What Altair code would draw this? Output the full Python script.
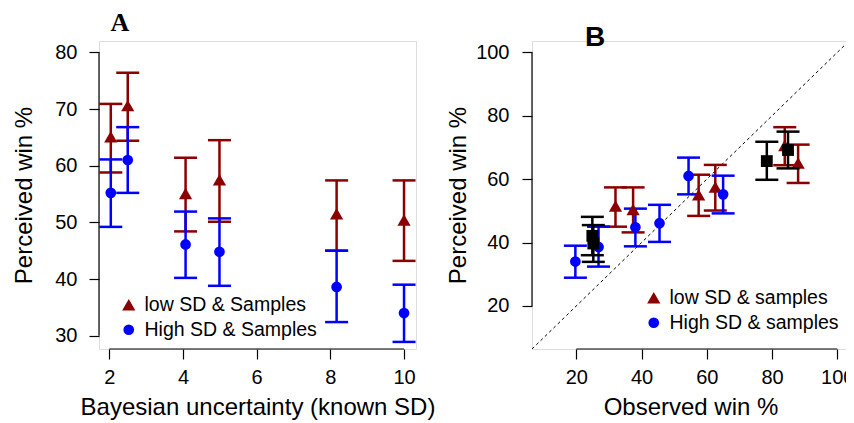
import altair as alt
import pandas as pd

# ---------------- data ----------------
# Panel A: x = Bayesian uncertainty (known SD)
sd_x = [2.04, 2.5, 4.07, 4.99, 8.17, 10.0]
low_mean = [65.1, 70.6, 55.1, 57.5, 51.5, 50.4]
low_lo = [58.8, 64.4, 48.4, 50.1, 45.0, 43.2]
low_hi = [70.9, 76.4, 61.4, 64.5, 57.4, 57.4]
high_mean = [55.2, 61.0, 46.1, 44.8, 38.6, 34.0]
high_lo = [49.2, 55.2, 40.2, 38.8, 32.4, 28.9]
high_hi = [61.1, 66.8, 51.9, 50.7, 45.0, 39.0]

# Panel B: x = observed win %
obs_low = [88.0, 83.9, 57.5, 62.6, 32.0, 37.4]
obs_high = [65.0, 54.4, 45.5, 38.1, 26.8, 19.7]
black_x = [24.9, 25.2, 78.4, 84.9]
black_y = [42.1, 39.7, 65.7, 69.2]
black_lo = [36.0, 33.9, 59.8, 63.4]
black_hi = [48.1, 45.5, 71.8, 75.0]

a_xticks = [2, 4, 6, 8, 10]
a_yticks = [30, 40, 50, 60, 70, 80]
b_ticks = [20, 40, 60, 80, 100]

a_xdom = [1.72, 10.325]
a_ydom = [27.65, 82.0]
b_dom = [6.4, 103.6]

labels_a = ["low SD & Samples", "High SD & Samples"]
labels_b = ["low SD & samples", "High SD & samples"]

FONT = "Liberation Sans"
RED = "#8B0000"
BLUE = "#0000FF"
W, H = 317, 308
CAP = "M-1,0L1,0"


def make_df(xs_low, xs_high, labs):
    rows = []
    for i in range(len(xs_low)):
        rows.append(dict(x=xs_low[i], y=low_mean[i], lo=low_lo[i], hi=low_hi[i], group=labs[0]))
    for i in range(len(xs_high)):
        rows.append(dict(x=xs_high[i], y=high_mean[i], lo=high_lo[i], hi=high_hi[i], group=labs[1]))
    return pd.DataFrame(rows)


def axis(values, title, label_pad, title_pad):
    return alt.Axis(values=values, domain=False, grid=False, tickSize=10, tickColor="black",
                    tickWidth=1.2, labelFont=FONT, labelFontSize=20, labelColor="black",
                    labelPadding=label_pad, labelFlush=False, labelOverlap=False, format="d",
                    title=title, titleFont=FONT, titleFontSize=24, titleFontWeight="normal",
                    titleColor="black", titlePadding=title_pad)


def errorbars(base, X, Y, color):
    bars = base.mark_rule(strokeWidth=2.5, color=color).encode(x=X("x"), y=Y("lo"), y2="hi")
    top = base.mark_point(shape=CAP, size=529, filled=False, strokeWidth=2.5, opacity=1,
                          color=color).encode(x=X("x"), y=Y("hi"))
    bot = base.mark_point(shape=CAP, size=529, filled=False, strokeWidth=2.5, opacity=1,
                          color=color).encode(x=X("x"), y=Y("lo"))
    return [bars, top, bot]


def panel(df, xdom, ydom, xax, yax, labs, legx, legy):
    X = lambda f: alt.X(f, type="quantitative", scale=alt.Scale(domain=xdom, nice=False, zero=False), axis=xax)
    Y = lambda f: alt.Y(f, type="quantitative", scale=alt.Scale(domain=ydom, nice=False, zero=False), axis=yax)
    layers = []
    for lab, col in zip(labs, [RED, BLUE]):
        b = alt.Chart(df).transform_filter(alt.datum.group == lab)
        layers += errorbars(b, X, Y, col)
    leg = alt.Legend(orient="none", legendX=legx, legendY=legy, title=None, labelFont=FONT,
                     labelFontSize=19.5, labelColor="black", labelLimit=0, padding=0, rowPadding=4,
                     labelOffset=6, symbolStrokeWidth=0)
    pts = alt.Chart(df).mark_point(filled=True, opacity=1).encode(
        x=X("x"), y=Y("y"),
        color=alt.Color("group:N", scale=alt.Scale(domain=labs, range=[RED, BLUE]), legend=leg),
        shape=alt.Shape("group:N", scale=alt.Scale(domain=labs, range=["triangle-up", "circle"]), legend=leg),
        size=alt.Size("group:N", scale=alt.Scale(domain=labs, range=[175, 115]), legend=leg),
    )
    return layers, pts, X, Y


# ---------------- Panel A ----------------
df_a = make_df(sd_x, sd_x, labels_a)
ax_a_x = axis(a_xticks, "Bayesian uncertainty (known SD)", 8, 8)
ax_a_y = axis(a_yticks, "Perceived win %", 12, 18)
err_a, pts_a, XA, YA = panel(df_a, a_xdom, a_ydom, ax_a_x, ax_a_y, labels_a, 20, 254)

yline_a = alt.Chart(pd.DataFrame({"a": [min(a_yticks)], "b": [max(a_yticks)]})).mark_rule(
    color="black", strokeWidth=1.2).encode(x=alt.value(0), y=YA("a"), y2="b")
xline_a = alt.Chart(pd.DataFrame({"a": [min(a_xticks)], "b": [max(a_xticks)]})).mark_rule(
    color="black", strokeWidth=1.2).encode(y=alt.value(H), x=XA("a"), x2="b")
title_a = alt.Chart(pd.DataFrame({"t": ["A"]})).mark_text(
    font="Liberation Serif", fontWeight="bold", fontSize=26, align="center", baseline="alphabetic",
    color="black").encode(text="t:N", x=alt.value(21), y=alt.value(-10))

chart_a = alt.layer(yline_a, xline_a, *err_a, pts_a, title_a).properties(width=W, height=H)

# ---------------- Panel B ----------------
df_b = make_df(obs_low, obs_high, labels_b)
ax_b_x = axis(b_ticks, "Observed win %", 8, 8)
ax_b_y = axis(b_ticks, "Perceived win %", 13, 5)
err_b, pts_b, XB, YB = panel(df_b, b_dom, b_dom, ax_b_x, ax_b_y, labels_b, 112, 247)

df_k = pd.DataFrame({"x": black_x, "y": black_y, "lo": black_lo, "hi": black_hi})
kbase = alt.Chart(df_k)
err_k = errorbars(kbase, XB, YB, "black")
k_pts = kbase.mark_point(shape="square", filled=True, size=140, opacity=1, color="black").encode(
    x=XB("x"), y=YB("y"))

diag = alt.Chart(pd.DataFrame({"x": b_dom, "y": b_dom})).mark_line(
    color="black", strokeWidth=1, strokeDash=[3, 3]).encode(x=XB("x"), y=YB("y"))
yline_b = alt.Chart(pd.DataFrame({"a": [min(b_ticks)], "b": [max(b_ticks)]})).mark_rule(
    color="black", strokeWidth=1.2).encode(x=alt.value(0), y=YB("a"), y2="b")
xline_b = alt.Chart(pd.DataFrame({"a": [min(b_ticks)], "b": [max(b_ticks)]})).mark_rule(
    color="black", strokeWidth=1.2).encode(y=alt.value(H), x=XB("a"), x2="b")
title_b = alt.Chart(pd.DataFrame({"t": ["B"]})).mark_text(
    font=FONT, fontWeight="bold", fontSize=28, align="center", baseline="alphabetic",
    color="black").encode(text="t:N", x=alt.value(63), y=alt.value(5))

chart_b = alt.layer(diag, yline_b, xline_b, *err_b, pts_b, *err_k, k_pts, title_b).properties(
    width=W, height=H)

chart = alt.hconcat(chart_a, chart_b, spacing=116, bounds="flush").resolve_scale(
    x="independent", y="independent", color="independent", shape="independent", size="independent"
).resolve_legend(color="independent", shape="independent", size="independent").properties(
    autosize=alt.AutoSizeParams(type="none"),
    padding={"left": 91, "top": 33, "right": 747, "bottom": 382},
).configure_view(stroke=None).configure(background="white")

chart.save("out.html", embed_options={"renderer": "svg", "actions": False})
